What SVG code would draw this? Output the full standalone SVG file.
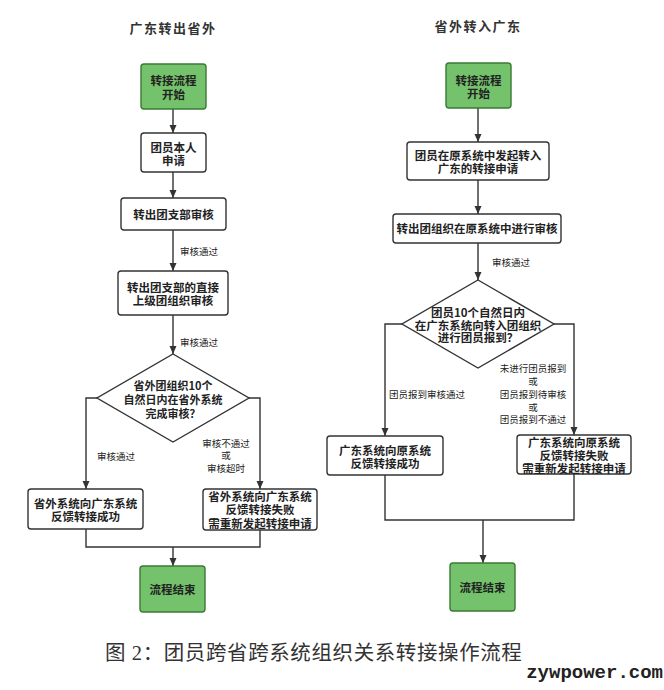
<svg xmlns="http://www.w3.org/2000/svg" width="664" height="690" viewBox="0 0 664 690">
<defs>
<marker id="arr" markerUnits="userSpaceOnUse" markerWidth="9" markerHeight="8" refX="8" refY="3.5" orient="auto">
<path d="M0,0 L8,3.5 L0,7 z" fill="#333"/>
</marker>
<style>
.box{fill:#fff;stroke:#333;stroke-width:1.4}
.start{fill:#74c26b;stroke:#3a7a35;stroke-width:1.4}
.t{font-family:"Noto Sans CJK SC","Liberation Sans",sans-serif;font-size:11.5px;font-weight:bold;fill:#222;text-anchor:middle;dominant-baseline:central}
.lb{font-family:"Noto Sans CJK SC","Liberation Sans",sans-serif;font-size:9.5px;fill:#222;text-anchor:middle;dominant-baseline:central}
.ti{font-family:"Noto Sans CJK SC","Liberation Sans",sans-serif;font-size:13px;font-weight:bold;fill:#333;text-anchor:middle;dominant-baseline:central;letter-spacing:1.5px}
.ln{fill:none;stroke:#333;stroke-width:1.4}
</style>
</defs>
<rect width="664" height="690" fill="#fff"/>
<text class="ti" x="173" y="27">广东转出省外</text>
<text class="ti" x="478" y="25">省外转入广东</text>

<g id="connectors">
<path class="ln" d="M173,109 V133" marker-end="url(#arr)"/>
<path class="ln" d="M173,172 V198" marker-end="url(#arr)"/>
<path class="ln" d="M173,230 V271" marker-end="url(#arr)"/>
<path class="ln" d="M173,315 V354" marker-end="url(#arr)"/>
<path class="ln" d="M97,398 H86 V489" marker-end="url(#arr)"/>
<path class="ln" d="M249,398 H260 V489" marker-end="url(#arr)"/>
<path class="ln" d="M86,529 V547 H260 V530"/>
<path class="ln" d="M173,547 V566" marker-end="url(#arr)"/>
<path class="ln" d="M478,108 V142" marker-end="url(#arr)"/>
<path class="ln" d="M478,180 V214" marker-end="url(#arr)"/>
<path class="ln" d="M478,243 V280" marker-end="url(#arr)"/>
<path class="ln" d="M402,324 H385 V436" marker-end="url(#arr)"/>
<path class="ln" d="M554,324 H574 V435" marker-end="url(#arr)"/>
<path class="ln" d="M385,475 V520 H574 V474"/>
<path class="ln" d="M483,520 V563" marker-end="url(#arr)"/>
<text class="lb" x="199" y="251">审核通过</text>
<text class="lb" x="199" y="342">审核通过</text>
<text class="lb" x="116" y="456">审核通过</text>
<text class="lb" x="226" y="443">审核不通过</text>
<text class="lb" x="226" y="455">或</text>
<text class="lb" x="226" y="468">审核超时</text>
<text class="lb" x="511" y="262">审核通过</text>
<text class="lb" x="427" y="394">团员报到审核通过</text>
<text class="lb" x="533" y="368">未进行团员报到</text>
<text class="lb" x="533" y="381">或</text>
<text class="lb" x="533" y="394">团员报到待审核</text>
<text class="lb" x="533" y="407">或</text>
<text class="lb" x="533" y="419">团员报到不通过</text>
</g>

<g id="L-start"><rect class="start" x="141" y="64" width="65" height="45" rx="3"/><text class="t" x="173.5" y="80">转接流程</text><text class="t" x="173.5" y="94">开始</text></g>
<g id="L-apply"><rect class="box" x="141" y="133" width="65" height="39" rx="3"/><text class="t" x="173.5" y="147">团员本人</text><text class="t" x="173.5" y="160">申请</text></g>
<g id="L-branch"><rect class="box" x="121" y="198" width="105" height="32" rx="3"/><text class="t" x="173.5" y="214">转出团支部审核</text></g>
<g id="L-upper"><rect class="box" x="118" y="271" width="110" height="44" rx="3"/><text class="t" x="173" y="287">转出团支部的直接</text><text class="t" x="173" y="300">上级团组织审核</text></g>
<g id="L-decision"><polygon class="box" points="173,354 249,398 173,442 97,398"/><text class="t" x="173" y="385" style="font-size:11px">省外团组织10个</text><text class="t" x="173" y="399" style="font-size:11px">自然日内在省外系统</text><text class="t" x="173" y="413" style="font-size:11px">完成审核？</text></g>
<g id="L-ok"><rect class="box" x="28" y="489" width="115" height="40" rx="3"/><text class="t" x="85.5" y="503">省外系统向广东系统</text><text class="t" x="85.5" y="516">反馈转接成功</text></g>
<g id="L-fail"><rect class="box" x="203" y="489" width="114" height="41" rx="3"/><text class="t" x="260" y="496">省外系统向广东系统</text><text class="t" x="260" y="509">反馈转接失败</text><text class="t" x="260" y="523">需重新发起转接申请</text></g>
<g id="L-end"><rect class="start" x="140" y="566" width="65" height="46" rx="3"/><text class="t" x="172.5" y="589">流程结束</text></g>

<g id="R-start"><rect class="start" x="446" y="63" width="65" height="45" rx="3"/><text class="t" x="478.5" y="80">转接流程</text><text class="t" x="478.5" y="93">开始</text></g>
<g id="R-apply"><rect class="box" x="407" y="142" width="142" height="38" rx="3"/><text class="t" x="478" y="155">团员在原系统中发起转入</text><text class="t" x="478" y="168">广东的转接申请</text></g>
<g id="R-review"><rect class="box" x="393" y="214" width="168" height="29" rx="3"/><text class="t" x="477" y="228">转出团组织在原系统中进行审核</text></g>
<g id="R-decision"><polygon class="box" points="478,280 554,324 478,368 402,324"/><text class="t" x="478" y="312">团员10个自然日内</text><text class="t" x="478" y="324.5">在广东系统向转入团组织</text><text class="t" x="478" y="337">进行团员报到？</text></g>
<g id="R-ok"><rect class="box" x="327" y="436" width="116" height="39" rx="3"/><text class="t" x="385" y="450">广东系统向原系统</text><text class="t" x="385" y="463">反馈转接成功</text></g>
<g id="R-fail"><rect class="box" x="517" y="435" width="114" height="39" rx="3"/><text class="t" x="574" y="442">广东系统向原系统</text><text class="t" x="574" y="455">反馈转接失败</text><text class="t" x="574" y="468">需重新发起转接申请</text></g>
<g id="R-end"><rect class="start" x="450" y="563" width="65" height="48" rx="3"/><text class="t" x="482.5" y="587">流程结束</text></g>

<text x="105" y="653" style="font-family:'Liberation Serif','Noto Sans CJK SC',serif;font-size:20.5px;fill:#333;dominant-baseline:central;letter-spacing:0.6px">图 2：团员跨省跨系统组织关系转接操作流程</text>
<text x="663" y="673" style="font-family:'Liberation Mono',monospace;font-size:19px;font-weight:bold;fill:#222;text-anchor:end;dominant-baseline:central">zywpower.com</text>
</svg>
